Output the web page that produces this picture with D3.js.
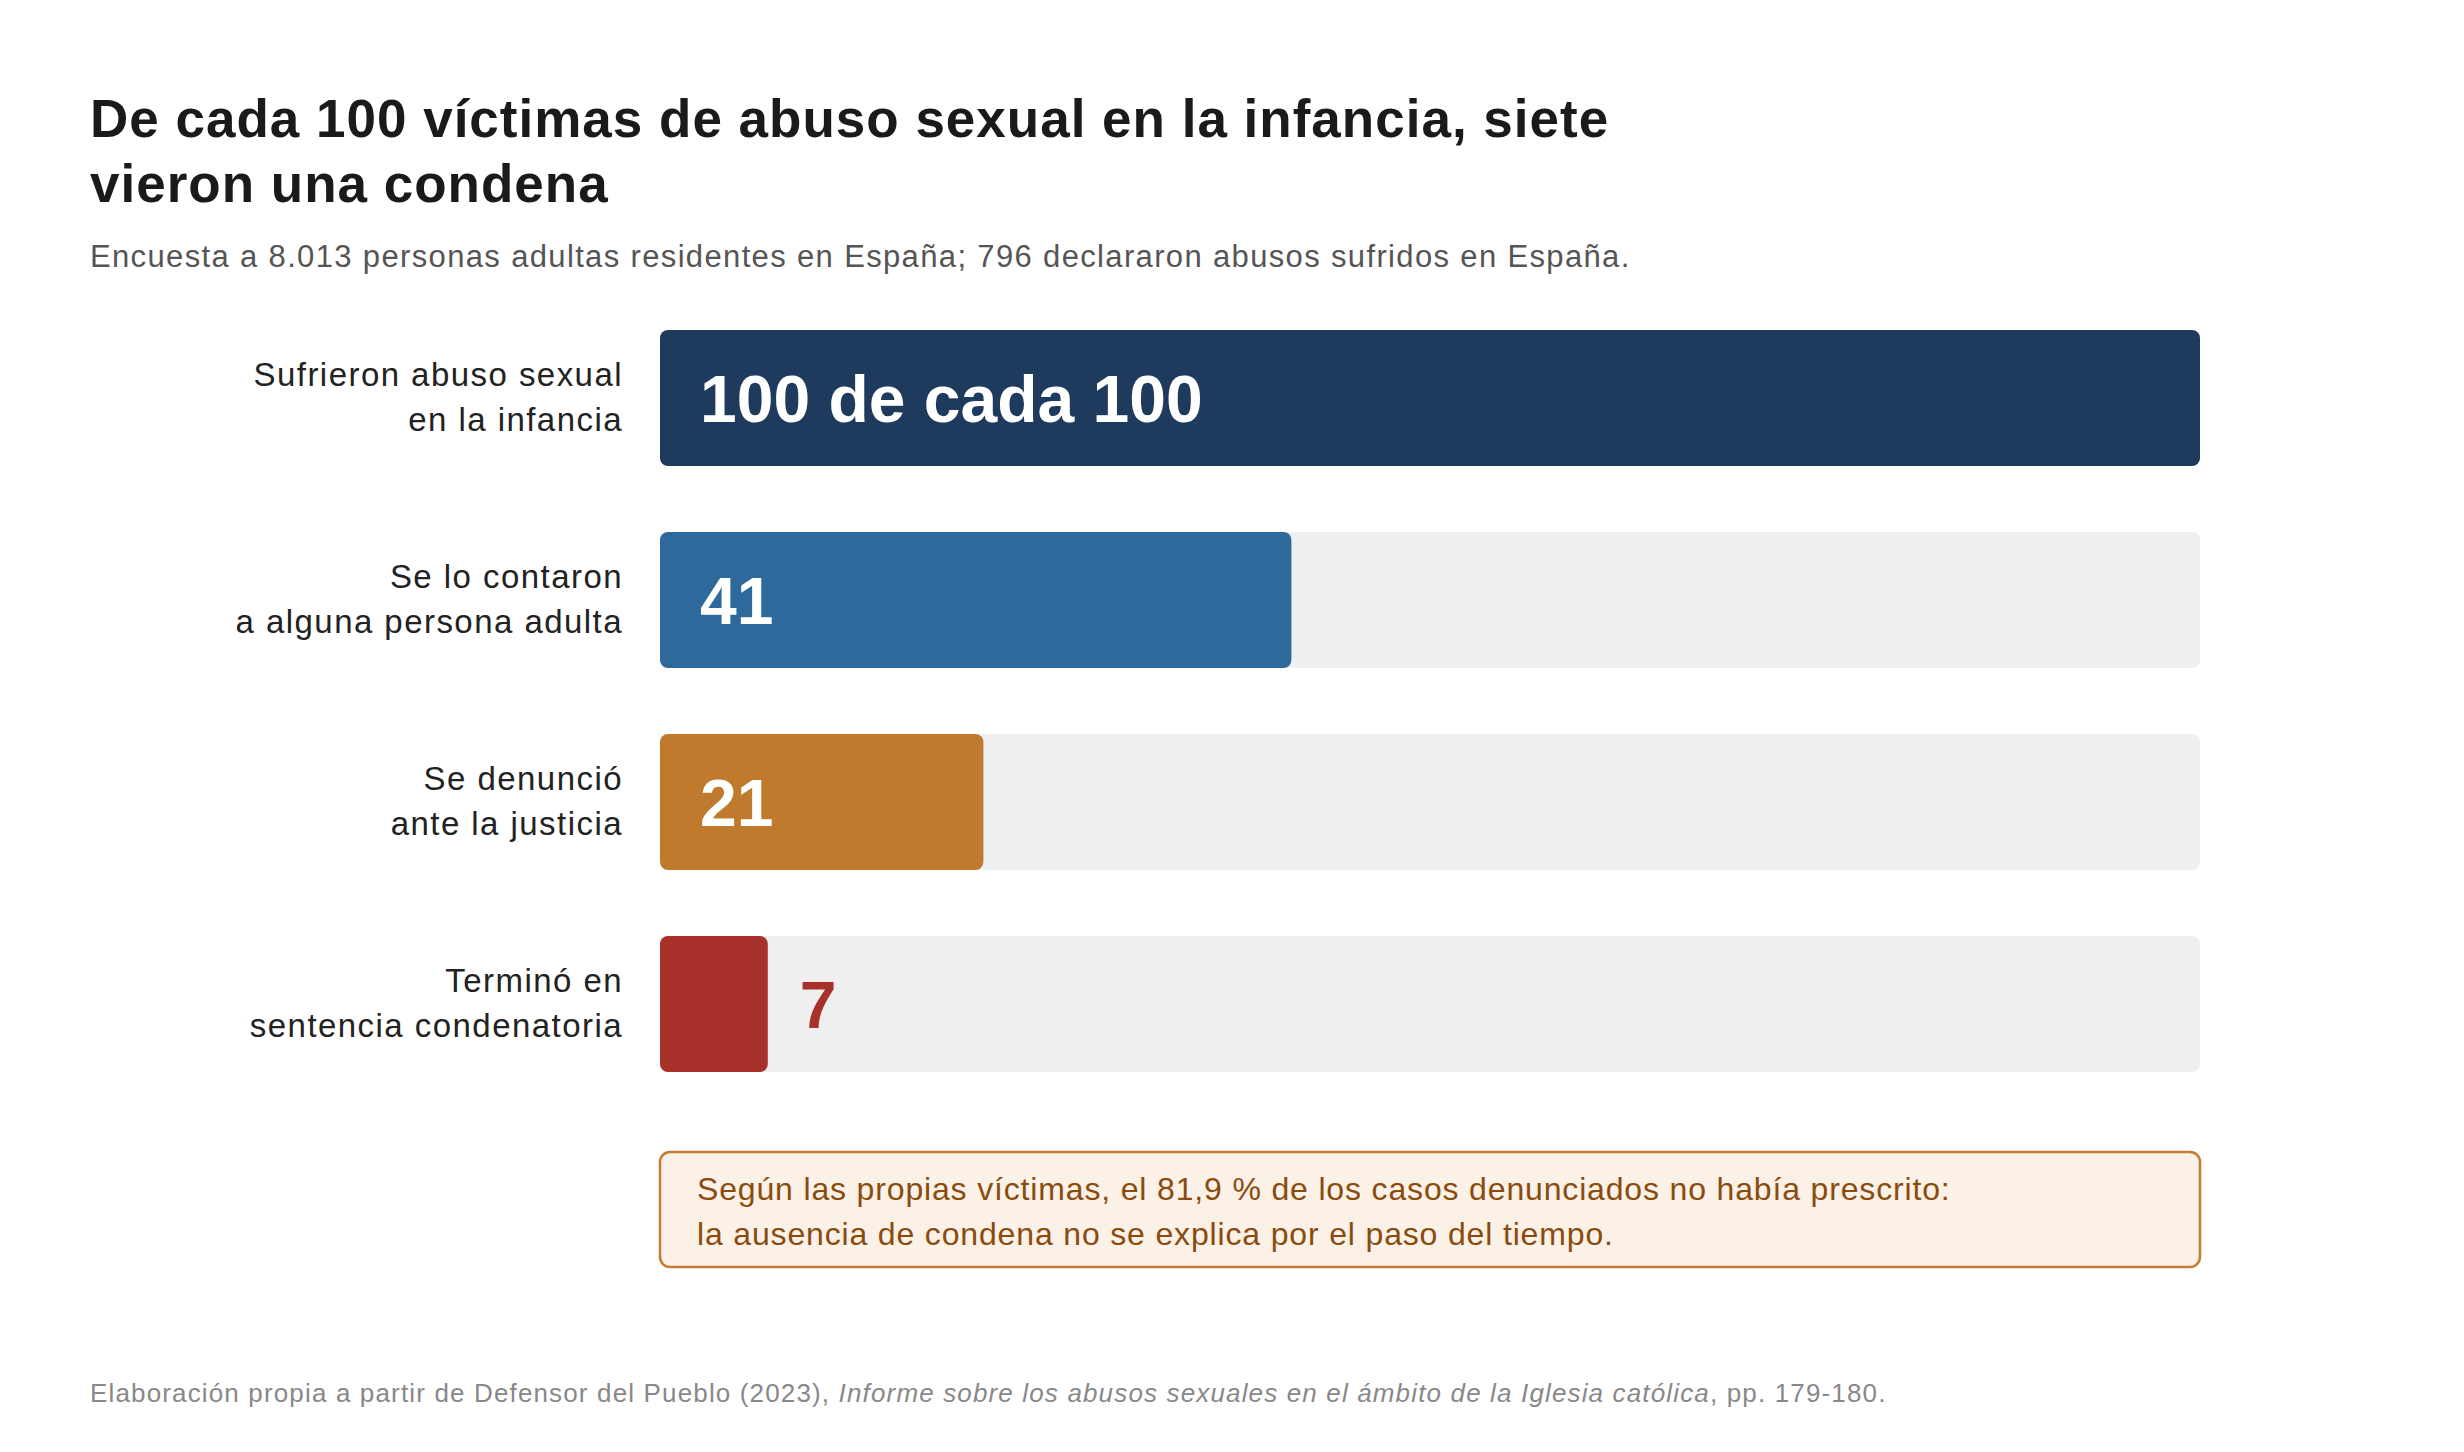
<!DOCTYPE html>
<html lang="es">
<head>
<meta charset="utf-8">
<script src="https://cdn.jsdelivr.net/npm/d3@7"></script>
<style>
  html, body { margin: 0; padding: 0; background: #fff; }
</style>
</head>
<body>
<svg id="chart"></svg>
<script>
"use strict";

// chart data
const categories = [
  ["Sufrieron abuso sexual", "en la infancia"],
  ["Se lo contaron", "a alguna persona adulta"],
  ["Se denunció", "ante la justicia"],
  ["Terminó en", "sentencia condenatoria"]
];
const values = [100, 41, 21, 7];
const valueLabels = ["100 de cada 100", "41", "21", "7"];

const titleLines = [
  "De cada 100 víctimas de abuso sexual en la infancia, siete",
  "vieron una condena"
];
const subtitle = "Encuesta a 8.013 personas adultas residentes en España; 796 declararon abusos sufridos en España.";
const noteLines = [
  "Según las propias víctimas, el 81,9 % de los casos denunciados no había prescrito:",
  "la ausencia de condena no se explica por el paso del tiempo."
];
const sourceParts = [
  { text: "Elaboración propia a partir de Defensor del Pueblo (2023), ", italic: false },
  { text: "Informe sobre los abusos sexuales en el ámbito de la Iglesia católica", italic: true },
  { text: ", pp. 179-180.", italic: false }
];

const palette = ["#1e3a5c", "#2d6a9b", "#c07a2e", "#a8312c"];

/////////////////////////////////////////////////////
// setup
/////////////////////////////////////////////////////
const width = 2464;
const height = 1452;
const left = 90;
const font = "'Liberation Sans', Arial, Helvetica, sans-serif";

const svg = d3
  .select("#chart")
  .attr("width", width)
  .attr("height", height)
  .style("display", "block")
  .attr("font-family", font);

const x = d3.scaleLinear().domain([0, 100]).range([660, 2200]);
const y = d3
  .scaleBand()
  .domain(d3.range(values.length))
  .range([330, 1072])
  .paddingInner(0.3267)
  .paddingOuter(0);

/////////////////////////////////////////////////////
// title and subtitle
/////////////////////////////////////////////////////
svg
  .append("g")
  .selectAll("text")
  .data(titleLines)
  .enter()
  .append("text")
  .attr("x", left)
  .attr("y", (d, i) => 137 + i * 65)
  .attr("font-size", 53)
  .attr("font-weight", "bold")
  .attr("letter-spacing", 1)
  .attr("fill", "#1a1a1a")
  .text((d) => d);

svg
  .append("text")
  .attr("x", left)
  .attr("y", 267)
  .attr("font-size", 31)
  .attr("letter-spacing", 1.35)
  .attr("fill", "#555")
  .text(subtitle);

/////////////////////////////////////////////////////
// bars
/////////////////////////////////////////////////////
const rows = svg
  .append("g")
  .selectAll("g")
  .data(values)
  .enter()
  .append("g")
  .attr("transform", (d, i) => `translate(0,${y(i)})`);

// grey track
rows
  .append("rect")
  .attr("x", x(0))
  .attr("width", x(100) - x(0))
  .attr("height", y.bandwidth())
  .attr("rx", 8)
  .attr("fill", "#efefef");

rows
  .append("rect")
  .attr("x", x(0))
  .attr("width", (d) => x(d) - x(0))
  .attr("height", y.bandwidth())
  .attr("rx", 8)
  .attr("fill", (d, i) => palette[i]);

// value labels, inside when the bar is wide enough
rows
  .append("text")
  .attr("x", (d) => (x(d) - x(0) > 200 ? x(0) + 40 : x(d) + 32))
  .attr("y", y.bandwidth() / 2 + 24)
  .attr("font-size", 66)
  .attr("font-weight", "bold")
  .attr("fill", (d, i) => (x(d) - x(0) > 200 ? "#fff" : palette[i]))
  .text((d, i) => valueLabels[i]);

// category labels
rows
  .append("text")
  .attr("text-anchor", "end")
  .attr("font-size", 33)
  .attr("letter-spacing", 1.45)
  .attr("fill", "#222")
  .selectAll("tspan")
  .data((d, i) => categories[i])
  .enter()
  .append("tspan")
  .attr("x", 623)
  .attr("y", (d, j) => y.bandwidth() / 2 - 12 + j * 45)
  .text((d) => d);

/////////////////////////////////////////////////////
// note box
/////////////////////////////////////////////////////
const note = svg.append("g");
note
  .append("rect")
  .attr("x", x(0))
  .attr("y", 1152)
  .attr("width", x(100) - x(0))
  .attr("height", 115)
  .attr("rx", 10)
  .attr("fill", "#fbf1e6")
  .attr("stroke", "#c47d34")
  .attr("stroke-width", 2.5);

note
  .selectAll("text")
  .data(noteLines)
  .enter()
  .append("text")
  .attr("x", x(0) + 37)
  .attr("y", (d, i) => 1200 + i * 45)
  .attr("font-size", 32)
  .attr("letter-spacing", 0.84)
  .attr("fill", "#8a4b0f")
  .text((d) => d);

/////////////////////////////////////////////////////
// source
/////////////////////////////////////////////////////
svg
  .append("text")
  .attr("x", left)
  .attr("y", 1402)
  .attr("font-size", 26)
  .attr("letter-spacing", 1.15)
  .attr("fill", "#888")
  .selectAll("tspan")
  .data(sourceParts)
  .enter()
  .append("tspan")
  .attr("font-style", (d) => (d.italic ? "italic" : "normal"))
  .text((d) => d.text);
</script>
</body>
</html>
